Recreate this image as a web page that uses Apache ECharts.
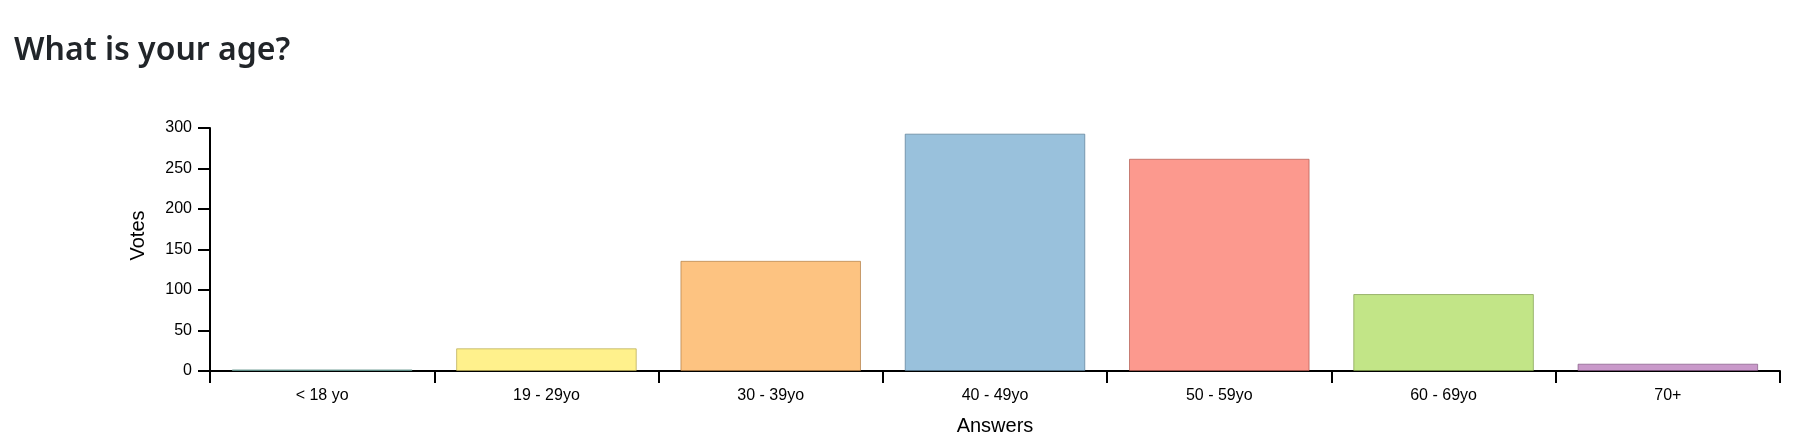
<!DOCTYPE html>
<html>
<head>
<meta charset="utf-8">
<script src="https://cdn.jsdelivr.net/npm/echarts@6/dist/echarts.min.js"></script>
<style>
html,body{margin:0;padding:0;background:#fff;}
#chart{width:1809px;height:447px;}
</style>
</head>
<body>
<div id="chart"></div>
<script>
// ---- data ----
const categories = ['< 18 yo', '19 - 29yo', '30 - 39yo', '40 - 49yo', '50 - 59yo', '60 - 69yo', '70+'];
const votes = [2, 28, 136, 293, 262, 95, 9];
const yTicks = [0, 50, 100, 150, 200, 250, 300];
const titleText = 'What is your age?';
const xName = 'Answers';
const yName = 'Votes';

// ---- style ----
const palette = [[141,211,199],[255,237,111],[253,180,98],[128,177,211],[251,128,114],[179,222,105],[188,128,189]];
const fill = c => `rgba(${c[0]},${c[1]},${c[2]},0.8)`;
const edge = c => `rgba(${Math.round(c[0]*0.7)},${Math.round(c[1]*0.7)},${Math.round(c[2]*0.7)},0.7)`;

const chart = echarts.init(document.getElementById('chart'), null, {renderer: 'canvas'});
const axisFont = 'Liberation Sans, Arial, sans-serif';
chart.setOption({
  animation: false,
  title: {
    text: titleText,
    left: 9,
    top: 30,
    textStyle: {fontFamily: 'Noto Sans, Open Sans, sans-serif', fontSize: 32, fontWeight: 600, color: '#212529'}
  },
  grid: {left: 210, right: 29, top: 128, bottom: 76},
  xAxis: {
    type: 'category',
    data: categories,
    name: xName,
    nameLocation: 'middle',
    nameGap: 45,
    nameTextStyle: {fontFamily: axisFont, fontSize: 20, color: '#000', verticalAlign: 'top'},
    axisLine: {lineStyle: {color: '#000', width: 2}},
    axisTick: {show: true, length: 12, lineStyle: {color: '#000', width: 2}},
    axisLabel: {fontFamily: axisFont, fontSize: 16, color: '#000', margin: 17}
  },
  yAxis: {
    type: 'value',
    min: yTicks[0],
    max: yTicks[yTicks.length - 1],
    interval: yTicks[1] - yTicks[0],
    name: yName,
    nameLocation: 'middle',
    nameGap: 62,
    nameRotate: 90,
    nameTextStyle: {fontFamily: axisFont, fontSize: 20, color: '#000', padding: [0, 0, 0, 28]},
    axisLine: {show: true, lineStyle: {color: '#000', width: 2}},
    axisTick: {show: true, length: 12, lineStyle: {color: '#000', width: 2}},
    axisLabel: {fontFamily: axisFont, fontSize: 16, color: '#000', margin: 18},
    splitLine: {show: false}
  },
  series: [{
    type: 'bar',
    barCategoryGap: '19.5%',
    data: votes.map((v, i) => ({
      value: v,
      itemStyle: {color: fill(palette[i]), borderColor: edge(palette[i]), borderWidth: 1}
    }))
  }]
});
</script>
</body>
</html>
